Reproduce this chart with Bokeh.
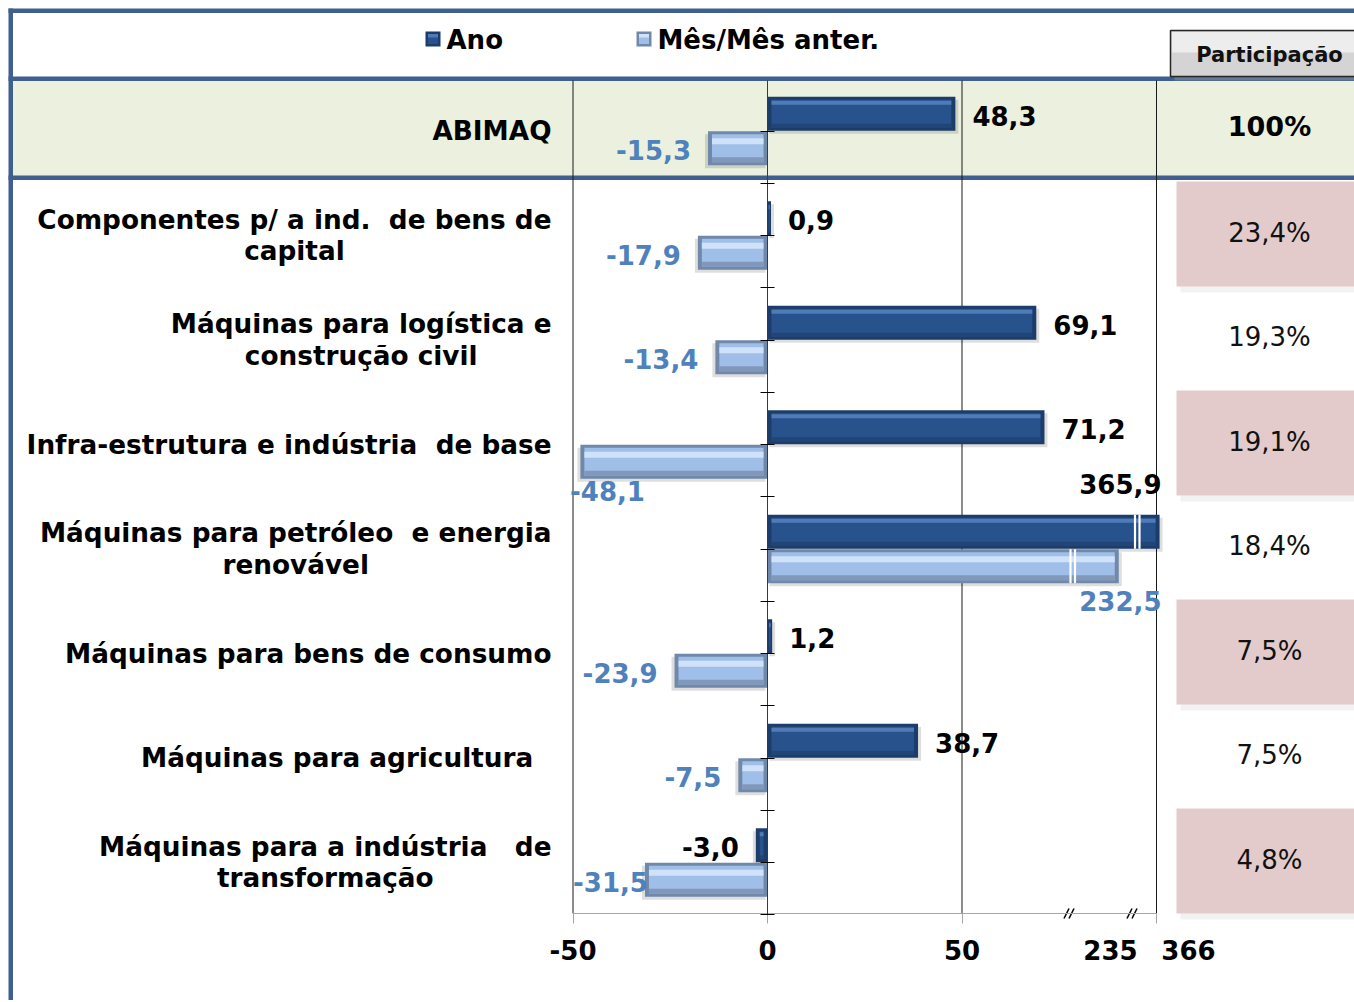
import numpy as np
from bokeh.plotting import figure
from bokeh.models import Range1d, LinearAxis, FixedTicker
from bokeh.core.properties import value
from bokeh.embed import file_html
from bokeh.resources import INLINE

# ---------------- data ----------------
categories = [
    "ABIMAQ",
    "Componentes p/ a ind.  de bens de\ncapital",
    "Máquinas para logística e\nconstrução civil",
    "Infra-estrutura e indústria  de base",
    "Máquinas para petróleo  e energia\nrenovável",
    "Máquinas para bens de consumo",
    "Máquinas para agricultura  ",
    "Máquinas para a indústria   de\ntransformação",
]
ano = [48.3, 0.9, 69.1, 71.2, 365.9, 1.2, 38.7, -3.0]
mes_mes = [-15.3, -17.9, -13.4, -48.1, 232.5, -23.9, -7.5, -31.5]
participacao = ["100%", "23,4%", "19,3%", "19,1%", "18,4%", "7,5%", "7,5%", "4,8%"]
series_names = ["Ano", "Mês/Mês anter."]
column_title = "Participação"
axis_values = [-50, 0, 50, 235, 366]

# ---------------- layout ----------------
W, H = 1354, 1000
OX, OY = 0, 0
PXU = 3.89          # pixels per unit on the value axis
ZERO_PX = 767
ROW_PX = 104.5
ROW0_PX = 130.5

def X(px):
    return (px - ZERO_PX) / PXU

def Y(py):
    return (py - ROW0_PX) / ROW_PX

def DX(px):
    return px / PXU

def DY(py):
    return py / ROW_PX

FONT = value("DejaVu Sans")
FS = "26px"
FRAME_L, FRAME_R = -50, 100
TOP_Y, BOT_Y = Y(80), Y(913)
RIGHT = X(1420)

# broken-axis display mapping (values above the break are compressed)
KNOT_V = [78, 235, 366]
KNOT_D = [78, 90.5, 100.8]


def disp(vals):
    v = np.asarray(vals, float)
    out = v.copy()
    m = v > KNOT_V[0]
    out[m] = np.interp(v[m], KNOT_V, KNOT_D)
    return out


def fmt(v):
    return f"{v:.1f}".replace(".", ",")


def keep_spaces(s):
    # keep runs of spaces visible in SVG text
    return s.replace("  ", " \u00a0")


CW = {"-": 0.415, ",": 0.38, ".": 0.38}


def est_w(s):
    return sum(CW.get(c, 0.696) for c in s) * 26


p = figure(width=W, height=H,
           x_range=Range1d(X(OX), X(OX + W)),
           y_range=Range1d(Y(OY + H), Y(OY)),
           x_axis_type=None, y_axis_type=None,
           toolbar_location=None, output_backend="svg",
           min_border=0, outline_line_color=None,
           background_fill_color="white", border_fill_color="white")

BLUE = "#3F5F8E"
n = len(categories)

# ABIMAQ band
p.quad(left=X(12), right=RIGHT, top=Y(80), bottom=Y(176),
       fill_color="#EBF1DE", line_color=None)

# alternating pink boxes in participation column
odd = [i for i in range(n) if i % 2 == 1]
p.quad(left=[X(1180)] * len(odd), right=[RIGHT] * len(odd),
       top=[i + DY(-50) for i in odd], bottom=[i + DY(57) for i in odd],
       fill_color="#D9D9D9", fill_alpha=0.35, line_color=None)
p.quad(left=[X(1176)] * len(odd), right=[RIGHT] * len(odd),
       top=[i + DY(-54) for i in odd], bottom=[i + DY(51) for i in odd],
       fill_color="#E3CBCB", line_color=None)

# blue frame lines
p.quad(left=X(8), right=RIGHT, top=Y(8), bottom=Y(12.5), fill_color=BLUE, line_color=None)
p.quad(left=X(8), right=X(12.5), top=Y(8), bottom=Y(1040), fill_color=BLUE, line_color=None)
p.quad(left=X(8), right=RIGHT, top=Y(76), bottom=Y(80.5), fill_color=BLUE, line_color=None)
p.quad(left=X(8), right=RIGHT, top=Y(175), bottom=Y(179.5), fill_color=BLUE, line_color=None)

# Participação header box
p.quad(left=X(1174), right=RIGHT, top=Y(34), bottom=Y(80), fill_color="#9A9A9A",
       fill_alpha=0.45, line_color=None)
p.quad(left=X(1170), right=RIGHT, top=Y(30), bottom=Y(76), fill_color="#D4D4D4",
       line_color="#262626", line_width=1.5)
p.quad(left=X(1171.5), right=RIGHT, top=Y(31.5), bottom=Y(52), fill_color="#EDEDED",
       line_color=None)
p.text(x=[X(1269)], y=[Y(54)], text=[column_title], text_align="center",
       text_baseline="middle", text_font=FONT, text_font_style="bold",
       text_font_size="21px", text_color="#111111")

# vertical grid lines (-50, 50, 100)
grid_vals = [FRAME_L, 50, FRAME_R]
p.segment(x0=grid_vals, x1=grid_vals, y0=[TOP_Y] * 3, y1=[BOT_Y] * 3,
          line_color="#1A1A1A", line_width=1)

# ---------------- bars ----------------
BAR_H = DY(34)
ANO_OFF, MES_OFF = -0.165, 0.165

PAL_ANO = dict(edge="#1C3C6A", body="#28528C", hi="#4F7CB8", low="#1F4272",
               hi_off=4, hi_h=4, low_h=4)
PAL_MES = dict(edge="#7088AA", body="#A0BFE8", hi="#CFE2FA", low="#7A8FAF",
               hi_off=7, hi_h=6, low_h=5)


def draw_series(vals, yoff, pal, brk):
    d = disp(vals)
    yc = np.arange(len(d)) + yoff
    sgn = np.sign(d)
    ins = np.minimum(DX(4), np.abs(d) / 3)
    zeros = np.zeros_like(d)
    # soft shadow
    p.hbar(y=yc + DY(3), left=zeros + sgn * DX(2), right=d + sgn * DX(3), height=BAR_H,
           fill_color="#000000", fill_alpha=0.13, line_color=None)
    p.hbar(y=yc, left=zeros, right=d, height=BAR_H, fill_color=pal["edge"], line_color=None)
    top = yc - BAR_H / 2
    bl, br = sgn * ins, d - sgn * ins
    body_h = BAR_H - DY(6)
    p.hbar(y=top + DY(3) + body_h / 2, left=bl, right=br, height=body_h,
           fill_color=pal["body"], line_color=None)
    p.hbar(y=top + DY(pal["hi_off"]) + DY(pal["hi_h"]) / 2, left=bl, right=br,
           height=DY(pal["hi_h"]), fill_color=pal["hi"], line_color=None)
    p.hbar(y=top + BAR_H - DY(3) - DY(pal["low_h"]) / 2, left=bl, right=br,
           height=DY(pal["low_h"]), fill_color=pal["low"], fill_alpha=0.8, line_color=None)
    # break marks on compressed bars
    big = [i for i, v in enumerate(vals) if v > KNOT_V[0]]
    for i in big:
        xs = [brk, brk + DX(4.5)]
        p.segment(x0=xs, x1=xs, y0=[top[i]] * 2, y1=[top[i] + BAR_H] * 2,
                  line_color="white", line_width=2.2)


draw_series(ano, ANO_OFF, PAL_ANO, X(1134.5))
draw_series(mes_mes, MES_OFF, PAL_MES, X(1070))

# ---------------- value labels ----------------
GAP = DX(17)


def place_labels(vals, yoff, color, side):
    groups = {"left": ([], [], []), "right": ([], [], [])}
    d_all = disp(vals)
    for i, v in enumerate(vals):
        d = float(d_all[i])
        txt = fmt(v)
        w = DX(est_w(txt))
        yc = i + yoff
        if v > KNOT_V[0]:
            x, align = FRAME_R + DX(5), "right"
            y = yc - BAR_H / 2 - DY(31) if side == "above" else yc + BAR_H / 2 + DY(18)
        elif v >= 0:
            x, align, y = d + GAP, "left", yc + DY(2)
        else:
            x, align, y = d - GAP, "right", yc + DY(2)
            if x - w < FRAME_L:
                x, align = FRAME_L, "left"
                if FRAME_L + w - d > DX(8):
                    x = FRAME_L - DX(3)
                    y = yc + BAR_H / 2 + DY(12)
        g = groups[align]
        g[0].append(x)
        g[1].append(y)
        g[2].append(txt)
    for align, (xs, ys, ts) in groups.items():
        if xs:
            p.text(x=xs, y=ys, text=ts, text_align=align, text_baseline="middle",
                   text_font=FONT, text_font_style="bold", text_font_size=FS,
                   text_color=color)


place_labels(ano, ANO_OFF, "#000000", "above")
place_labels(mes_mes, MES_OFF, "#4F81BD", "below")

# ---------------- category labels ----------------
p.text(x=[X(551)] * n, y=list(range(n)), text=[keep_spaces(c) for c in categories],
       anchor="center_right", text_align="center", text_baseline="middle",
       text_font=FONT, text_font_style="bold", text_font_size="26.3px",
       text_color="#000000", text_line_height=1.06)

# ---------------- participation column ----------------
p.text(x=[X(1269)], y=[0 + DY(-5)], text=participacao[:1], text_align="center",
       text_baseline="middle", text_font=FONT, text_font_style="bold",
       text_font_size="27px", text_color="#000000")
p.text(x=[X(1269)] * (n - 1), y=[i + DY(-3) for i in range(1, n)], text=participacao[1:],
       text_align="center", text_baseline="middle", text_font=FONT,
       text_font_size=FS, text_color="#111111")

# ---------------- legend ----------------
leg_x = [425, 636]
leg_pal = [PAL_ANO, PAL_MES]
for lx, pal, name in zip(leg_x, leg_pal, series_names):
    p.quad(left=X(lx), right=X(lx + 15), top=Y(31), bottom=Y(46),
           fill_color=pal["edge"], line_color=None)
    p.quad(left=X(lx + 2.5), right=X(lx + 12.5), top=Y(33.5), bottom=Y(43.5),
           fill_color=pal["body"], line_color=None)
    p.quad(left=X(lx + 2.5), right=X(lx + 12.5), top=Y(33.5), bottom=Y(37),
           fill_color=pal["hi"], line_color=None)
    p.text(x=[X(lx + 21)], y=[Y(39)], text=[name], text_align="left",
           text_baseline="middle", text_font=FONT, text_font_style="bold",
           text_font_size=FS, text_color="#000000")

# ---------------- axes ----------------
# category axis along zero
yax = LinearAxis(fixed_location=0,
                 ticker=FixedTicker(ticks=[k * 0.5 for k in range(0, 2 * n)]),
                 bounds=(Y(80), 7.5), axis_line_color="#3A3A3A", axis_line_width=1,
                 major_tick_in=7, major_tick_out=7, major_tick_line_color="#000000",
                 minor_tick_line_color=None, major_label_text_alpha=0)
p.add_layout(yax, "left")

# bottom value axis (line + ticks)
xax = LinearAxis(fixed_location=BOT_Y,
                 ticker=FixedTicker(ticks=[FRAME_L, 0, 50, FRAME_R]),
                 bounds=(FRAME_L, FRAME_R), axis_line_color="#A6A6A6",
                 major_tick_line_color="#A6A6A6", major_tick_out=10, major_tick_in=0,
                 minor_tick_line_color=None, major_label_text_alpha=0)
p.add_layout(xax, "below")

# bottom value axis labels (broken axis: last two labels are compressed values)
label_pos = [-50, 0, 50, X(1110), X(1188)]
xlab = LinearAxis(fixed_location=BOT_Y,
                  ticker=FixedTicker(ticks=label_pos),
                  major_label_overrides={pos: str(v) for pos, v in zip(label_pos, axis_values)},
                  axis_line_color=None, major_tick_line_color=None,
                  minor_tick_line_color=None, major_label_standoff=20,
                  major_label_text_font="DejaVu Sans", major_label_text_font_style="bold",
                  major_label_text_font_size=FS, major_label_text_color="#000000")
p.add_layout(xlab, "below")

# axis break marks "//"
for bx in [1066, 1129]:
    for k in range(2):
        xo = bx + 5 * k
        p.segment(x0=[X(xo - 2.5)], y0=[Y(918)], x1=[X(xo + 2.5)], y1=[Y(908)],
                  line_color="#000000", line_width=1.5)

open("out.html", "w").write(file_html(p, INLINE))
